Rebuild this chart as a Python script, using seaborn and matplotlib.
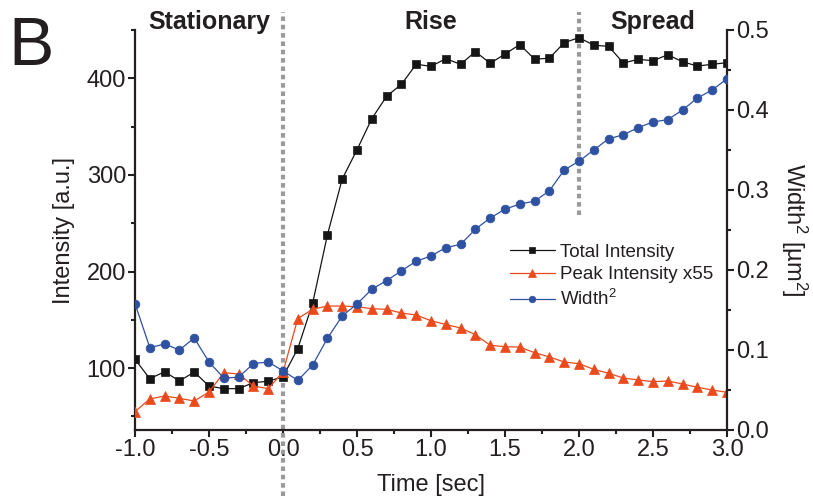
import numpy as np
import pandas as pd
import matplotlib
matplotlib.use("Agg")
import matplotlib.pyplot as plt
import seaborn as sns
from matplotlib.ticker import MultipleLocator, FormatStrFormatter

# ---------------- data ----------------
time = [-1.0, -0.9, -0.8, -0.7, -0.6, -0.5, -0.4, -0.3, -0.2, -0.1, 0.0,
        0.1, 0.2, 0.3, 0.4, 0.5, 0.6, 0.7, 0.8, 0.9, 1.0,
        1.1, 1.2, 1.3, 1.4, 1.5, 1.6, 1.7, 1.8, 1.9, 2.0,
        2.1, 2.2, 2.3, 2.4, 2.5, 2.6, 2.7, 2.8, 2.9, 3.0]

total_intensity = [109.2, 89.1, 96.3, 86.7, 96.0, 81.5, 78.8, 78.8, 85.0, 86.4, 91.2,
                   120.3, 167.0, 237.8, 295.8, 326.0, 358.2, 381.4, 393.8, 414.5, 412.4,
                   420.3, 414.5, 427.6, 415.5, 425.2, 434.9, 419.8, 420.8, 436.9, 442.1,
                   434.2, 433.1, 415.8, 419.7, 418.2, 424.4, 417.1, 412.7, 414.5, 416.2]

peak_intensity_x55 = [55.0, 68.1, 71.2, 68.8, 66.0, 75.3, 95.3, 94.0, 81.5, 78.8, 96.0,
                      151.4, 160.9, 164.3, 164.3, 163.6, 161.5, 160.9, 157.1, 155.0, 149.1,
                      145.2, 141.6, 134.6, 123.7, 122.2, 121.8, 116.0, 111.6, 106.4, 104.6,
                      98.8, 94.7, 89.8, 87.8, 86.0, 86.7, 83.6, 80.2, 77.4, 75.0]

width_sq = [0.158, 0.103, 0.1075, 0.100, 0.115, 0.085, 0.065, 0.066, 0.083, 0.085, 0.074,
            0.062, 0.081, 0.1146, 0.1425, 0.1575, 0.176, 0.1867, 0.199, 0.211, 0.2175,
            0.228, 0.232, 0.251, 0.265, 0.276, 0.2825, 0.286, 0.299, 0.325, 0.336,
            0.350, 0.364, 0.369, 0.378, 0.385, 0.388, 0.400, 0.415, 0.425, 0.439]

phase_names = ["Stationary", "Rise", "Spread"]
phase_centers = [-0.5, 1.0, 2.5]
phase_bounds = [0.0, 2.0]

series_labels = ["Total Intensity", "Peak Intensity x55", "Width$^2$"]

# ---------------- style ----------------
sns.set_theme(style="ticks")
plt.rcParams["font.family"] = ["Liberation Sans", "DejaVu Sans"]
plt.rcParams["mathtext.fontset"] = "custom"
plt.rcParams["mathtext.rm"] = "Liberation Sans"
plt.rcParams["mathtext.it"] = "Liberation Sans:italic"
plt.rcParams["mathtext.bf"] = "Liberation Sans:bold"

TXT = "#231f20"
BLACK = "#151515"
ORANGE = "#ea4a1c"
BLUE = "#2f51a2"
GRAY = "#9a9a9a"

FS = 17

df = pd.DataFrame({"t": time, "total": total_intensity,
                   "peak": peak_intensity_x55, "width": width_sq})

fig = plt.figure(figsize=(8.13, 4.96), dpi=100)
ax = fig.add_axes([135 / 813, 66 / 496, 592 / 813, 400 / 496])
ax2 = ax.twinx()

# phase separators (extend outside axes)
ax.axvline(phase_bounds[0], ymin=-0.165, ymax=1.045, color=GRAY, lw=3.0,
           ls=(0, (1.1, 0.9)), clip_on=False, zorder=1)
ax.axvline(phase_bounds[1], ymin=0.5375, ymax=1.045, color=GRAY, lw=3.0,
           ls=(0, (1.1, 0.9)), clip_on=False, zorder=1)

sns.lineplot(data=df, x="t", y="total", ax=ax, color=BLACK, marker="s",
             markersize=6.3, linewidth=0.9, markeredgecolor=BLACK,
             markeredgewidth=0.5, legend=False, zorder=3)
sns.lineplot(data=df, x="t", y="peak", ax=ax, color=ORANGE, marker="^",
             markersize=7, linewidth=0.9, markeredgecolor=ORANGE,
             markeredgewidth=0.5, legend=False, zorder=3)
sns.lineplot(data=df, x="t", y="width", ax=ax2, color=BLUE, marker="o",
             markersize=6.3, linewidth=0.9, markeredgecolor=BLUE,
             markeredgewidth=0.5, legend=False, zorder=3)

ax.set_xlim(-1.0, 3.0)
ax.set_ylim(36, 450)
ax2.set_ylim(0.0, 0.5)

# ticks
ax.xaxis.set_major_locator(MultipleLocator(0.5))
ax.xaxis.set_minor_locator(MultipleLocator(0.25))
ax.xaxis.set_major_formatter(FormatStrFormatter("%.1f"))
ax.yaxis.set_major_locator(MultipleLocator(100))
ax.yaxis.set_minor_locator(MultipleLocator(50))
ax2.yaxis.set_major_locator(MultipleLocator(0.1))
ax2.yaxis.set_minor_locator(MultipleLocator(0.05))
ax2.yaxis.set_major_formatter(FormatStrFormatter("%.1f"))

for a in (ax, ax2):
    a.tick_params(which="major", direction="out", length=5, width=1.5,
                  color=TXT, labelcolor=TXT, labelsize=FS, pad=1.5)
    a.tick_params(which="minor", direction="out", length=3, width=1.5, color=TXT)
    a.spines["top"].set_visible(False)
    for s in a.spines.values():
        s.set_linewidth(1.6)
        s.set_color(TXT)
ax2.spines["left"].set_visible(False)
ax2.spines["bottom"].set_visible(False)
ax.spines["right"].set_visible(False)

ax.set_xlabel("Time [sec]", fontsize=FS, color=TXT, labelpad=9)
ax.set_ylabel("Intensity [a.u.]", fontsize=FS, color=TXT, labelpad=8)
ax2.set_ylabel("Width$^2$ [µm$^2$]", fontsize=FS, color=TXT, rotation=270,
               va="bottom", labelpad=7)

# phase labels
for name, c in zip(phase_names, phase_centers):
    ax.text(c, 1.02, name, transform=ax.get_xaxis_transform(), ha="center",
            va="center", fontsize=18, fontweight="bold", color=TXT, clip_on=False)

# panel letter
fig.text(0.010, 0.905, "B", fontsize=49, color=TXT, ha="left", va="center")

# legend
h1 = ax.get_lines()[2]
h2 = ax.get_lines()[3]
h3 = ax2.get_lines()[0]
leg = ax2.legend([h1, h2, h3], series_labels, loc="upper left",
                 bbox_to_anchor=(0.62, 0.485), frameon=False, fontsize=13.5,
                 handlelength=2.4, handletextpad=0.3, labelspacing=0.3,
                 borderaxespad=0.0, markerscale=0.75)
for t in leg.get_texts():
    t.set_color(TXT)

fig.savefig("out.png", dpi=100)
